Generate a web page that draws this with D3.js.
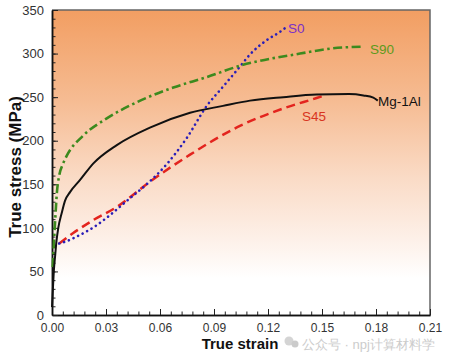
<!DOCTYPE html>
<html><head><meta charset="utf-8">
<script src="https://cdn.jsdelivr.net/npm/d3@7"></script>
<style>body{margin:0;background:#fff}svg{display:block}text{font-family:Arial,"Liberation Sans",sans-serif}</style>
</head><body><svg id="c" width="449" height="356"></svg>
<script>
const xTicks=[0,0.03,0.06,0.09,0.12,0.15,0.18,0.21];
const xTickLabels=["0.00","0.03","0.06","0.09","0.12","0.15","0.18","0.21"];
const yTicks=[0,50,100,150,200,250,300,350];
const mgStrain=[0,0.0005,0.001,0.0017,0.0025,0.0035,0.0054,0.0072,0.01,0.0156,0.023,0.036,0.0544,0.0767,0.095,0.11,0.1285,0.147,0.165,0.173,0.1785,0.181];
const mgStress=[9,30,50,67,85,100,117,131,141,155,174,195,215,232,240,246,250,253,253.5,252,249.5,246];
const s90Strain=[0.0004,0.001,0.0018,0.0027,0.004,0.006,0.008,0.0174,0.03,0.049,0.0674,0.086,0.1044,0.1378,0.156,0.173];
const s90Stress=[55,80,110,140,160,173,182,206,225,246,261,273,286,300,306,308];
const s0Strain=[0.004,0.0072,0.0156,0.0248,0.03,0.0433,0.0526,0.0637,0.0748,0.086,0.095,0.1044,0.11,0.119,0.1267,0.13];
const s0Stress=[82,84,92,103,111,134,150,173,203,240,262,285,299,315,325,330];
const s45Strain=[0.004,0.0118,0.023,0.036,0.0544,0.0767,0.1044,0.1285,0.147,0.15];
const s45Stress=[82,94,109,124,153,184,217,237,249,251];
const seriesNames=["Mg-1Al","S90","S0","S45"];

const svg=d3.select("#c");
const L=52,R=430,T=10,B=315;
const x=d3.scaleLinear().domain([0,0.21]).range([L,R]);
const y=d3.scaleLinear().domain([0,350]).range([B,T]);

const defs=svg.append("defs");
const g=defs.append("linearGradient").attr("id","bg").attr("x1",0).attr("y1",0).attr("x2",0).attr("y2",1);
[[0,"#F29E62"],[0.3,"#F6BC93"],[0.55,"#FADBC6"],[0.75,"#FDF0E8"],[0.88,"#FFFFFF"],[1,"#FFFFFF"]].forEach(s=>g.append("stop").attr("offset",s[0]).attr("stop-color",s[1]));
svg.append("rect").attr("x",L).attr("y",T).attr("width",R-L).attr("height",B-T).attr("fill","url(#bg)");

svg.append("path").attr("d",`M${L},${T}H${R}V${B}`).attr("fill","none").attr("stroke","#666").attr("stroke-width",1.5);

const xAxis=d3.axisBottom(x).tickValues(xTicks).tickFormat((d,i)=>xTickLabels[i]).tickSizeInner(-6).tickSizeOuter(0).tickPadding(8);
const xMinor=d3.axisBottom(x).tickValues(d3.range(0,0.2101,0.006)).tickFormat("").tickSizeInner(-3.5).tickSizeOuter(0);
const yAxis=d3.axisLeft(y).tickValues(yTicks).tickSizeInner(-6).tickSizeOuter(0).tickPadding(8);
const yMinor=d3.axisLeft(y).tickValues(d3.range(0,351,10)).tickFormat("").tickSizeInner(-3.5).tickSizeOuter(0);
[xMinor,xAxis].forEach(a=>{const ax=svg.append("g").attr("transform",`translate(0,${B})`).call(a);ax.select(".domain").attr("stroke","#111").attr("stroke-width",1.5);ax.selectAll("line").attr("stroke","#222");ax.selectAll("text").attr("font-size",12).attr("fill","#333");});
[yMinor,yAxis].forEach(a=>{const ax=svg.append("g").attr("transform",`translate(${L},0)`).call(a);ax.select(".domain").attr("stroke","#111").attr("stroke-width",1.5);ax.selectAll("line").attr("stroke","#222");ax.selectAll("text").attr("font-size",13).attr("fill","#333");});

const line=d3.line().x(d=>x(d[0])).y(d=>y(d[1])).curve(d3.curveMonotoneX);
const zip=(a,b)=>a.map((v,i)=>[v,b[i]]);
svg.append("path").datum(zip(s45Strain,s45Stress)).attr("d",line).attr("fill","none").attr("stroke","#E3241E").attr("stroke-width",2.5).attr("stroke-dasharray","9,5");
svg.append("path").datum(zip(s0Strain,s0Stress)).attr("d",line).attr("fill","none").attr("stroke","#2A1EB8").attr("stroke-width",2.6).attr("stroke-dasharray","0.1,5").attr("stroke-linecap","round");
svg.append("path").datum(zip(s90Strain,s90Stress)).attr("d",line).attr("fill","none").attr("stroke","#3C8A1E").attr("stroke-width",2.6).attr("stroke-dasharray","9,3.5,2.5,3.5");
svg.append("path").datum(zip(mgStrain,mgStress)).attr("d",line).attr("fill","none").attr("stroke","#111").attr("stroke-width",2);

const lab=[[seriesNames[2],288,33,"#7B2FC8"],[seriesNames[1],370,54,"#5E9A1C"],[seriesNames[0],378,106,"#111"],[seriesNames[3],302,121,"#D8341E"]];
lab.forEach(l=>svg.append("text").attr("x",l[1]).attr("y",l[2]).attr("font-size",13.5).attr("fill",l[3]).text(l[0]));

svg.append("text").attr("x",240).attr("y",349).attr("text-anchor","middle").attr("font-size",15).attr("font-weight","bold").attr("fill","#111").text("True strain");
svg.append("text").attr("transform","translate(21,167) rotate(-90)").attr("text-anchor","middle").attr("font-size",17).attr("font-weight","bold").attr("fill","#111").text("True stress (MPa)");

const wm=svg.append("g").attr("opacity",0.5);
wm.append("circle").attr("cx",289).attr("cy",341).attr("r",4.5).attr("fill","#aaa");
wm.append("circle").attr("cx",295).attr("cy",344).attr("r",3.5).attr("fill","#999");
wm.append("text").attr("x",302).attr("y",349).attr("font-size",13).attr("fill","#999").attr("font-family","'Noto Sans CJK SC',sans-serif").text("公众号 · npj计算材料学");
</script></body></html>
